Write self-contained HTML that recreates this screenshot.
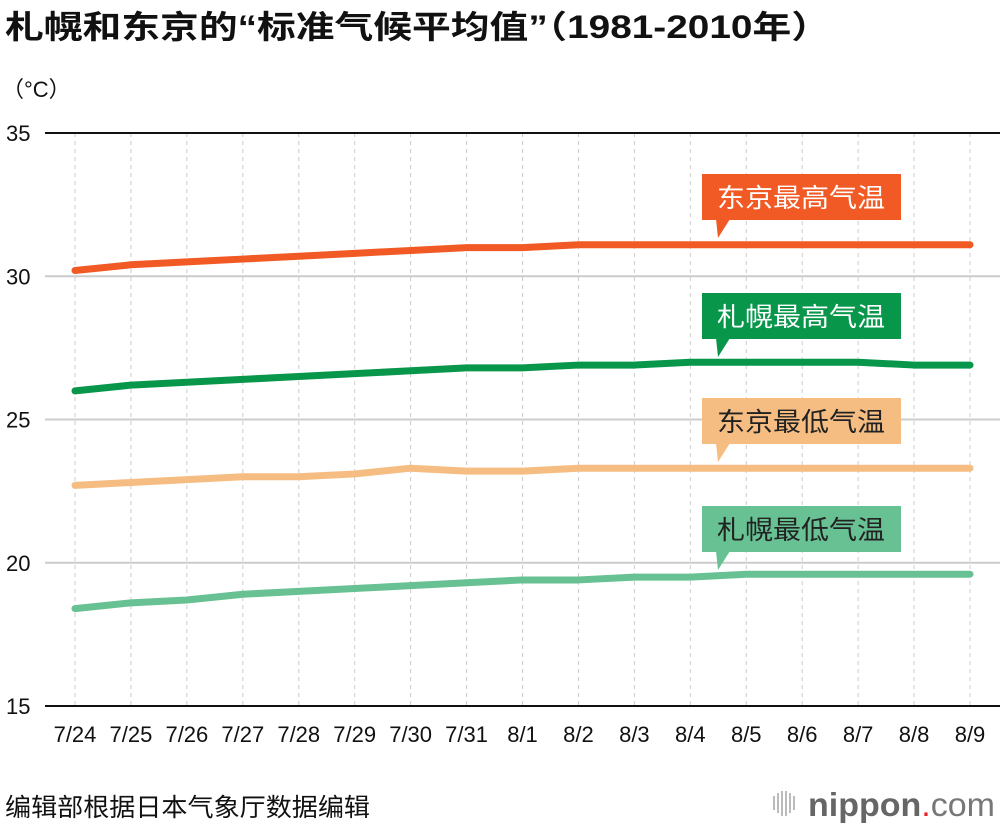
<!DOCTYPE html>
<html><head><meta charset="utf-8"><style>
body{margin:0;background:#fff;width:1000px;height:826px;overflow:hidden;font-family:"Liberation Sans","Noto Sans CJK SC",sans-serif}
</style></head><body>
<svg width="1000" height="826" id="c" font-family="Liberation Sans, Noto Sans CJK SC, sans-serif">
<text x="5" y="38" font-size="32" font-weight="bold" fill="#111" textLength="825" lengthAdjust="spacingAndGlyphs">札幌和东京的“标准气候平均值”（1981-2010年）</text>
<text x="2" y="97" font-size="22" fill="#111">（°C）</text>
<text x="5" y="816" font-size="25" fill="#111" textLength="365" lengthAdjust="spacingAndGlyphs">编辑部根据日本气象厅数据编辑</text>
<g>
<rect x="773" y="796" width="2" height="14" fill="#bbb"/><rect x="777" y="793" width="2" height="20" fill="#bbb"/><rect x="781" y="791" width="2" height="25" fill="#bbb"/><rect x="785" y="791" width="2" height="25" fill="#bbb"/><rect x="789" y="793" width="2" height="20" fill="#bbb"/><rect x="793" y="796" width="2" height="14" fill="#bbb"/>
<text x="808" y="816" font-size="33" fill="#666" textLength="187" lengthAdjust="spacingAndGlyphs"><tspan font-weight="bold">nippon</tspan><tspan fill="#e8202a">.</tspan><tspan fill="#777">com</tspan></text></g>
<g id="grid"></g><g id="lines"></g><g id="labels"></g>
</svg>
<script>
const categories=["7/24","7/25","7/26","7/27","7/28","7/29","7/30","7/31","8/1","8/2","8/3","8/4","8/5","8/6","8/7","8/8","8/9"];
const tokyoHigh=[30.2,30.4,30.5,30.6,30.7,30.8,30.9,31.0,31.0,31.1,31.1,31.1,31.1,31.1,31.1,31.1,31.1];
const sapporoHigh=[26.0,26.2,26.3,26.4,26.5,26.6,26.7,26.8,26.8,26.9,26.9,27.0,27.0,27.0,27.0,26.9,26.9];
const tokyoLow=[22.7,22.8,22.9,23.0,23.0,23.1,23.3,23.2,23.2,23.3,23.3,23.3,23.3,23.3,23.3,23.3,23.3];
const sapporoLow=[18.4,18.6,18.7,18.9,19.0,19.1,19.2,19.3,19.4,19.4,19.5,19.5,19.6,19.6,19.6,19.6,19.6];
const yTicks=[15,20,25,30,35];
const NS="http://www.w3.org/2000/svg";
const X=i=>75+i*(970-75)/(categories.length-1);
const Y=v=>706-(v-15)*(706-133)/20;
function mk(t,a,p){const e=document.createElementNS(NS,t);for(const k in a)e.setAttribute(k,a[k]);p.appendChild(e);return e;}
const g=document.getElementById('grid');
categories.forEach((c,i)=>{
 const l=mk('line',{x1:X(i),x2:X(i),y1:133,y2:706,stroke:'#ccc','stroke-dasharray':'4 4','stroke-width':1},g);
 
 
 const t=mk('text',{x:X(i),y:742,'font-size':22,'text-anchor':'middle',fill:'#111'},g);
 t.textContent=c;
 
 
});
yTicks.forEach(v=>{
 const ax=v==15||v==35;
 const l=mk('line',{x1:45,x2:1000,y1:Y(v),y2:Y(v),stroke:ax?'#111':'#ccc','stroke-width':2},g);
 
 
 const t=mk('text',{x:6,y:Y(v)+8,'font-size':22,fill:'#111'},g);
 t.textContent=v;
 
 
});
const L=document.getElementById('lines');
const series=[[tokyoHigh,'#f15a24','tokyo-high-line'],[sapporoHigh,'#07964a','sapporo-high-line'],[tokyoLow,'#f6bd82','tokyo-low-line'],[sapporoLow,'#68c193','sapporo-low-line']];
series.forEach(([d,col,n])=>{
 const p=mk('polyline',{points:d.map((v,i)=>X(i)+','+Y(v)).join(' '),fill:'none',stroke:col,'stroke-width':7,'stroke-linecap':'round','stroke-linejoin':'round'},L);
 
 
});
const lab=document.getElementById('labels');
const tags=[[174,'#f15a24','#fff','东京最高气温','tokyo-high-label'],[293,'#07964a','#fff','札幌最高气温','sapporo-high-label'],[398,'#f6bd82','#222','东京最低气温','tokyo-low-label'],[506,'#68c193','#222','札幌最低气温','sapporo-low-label']];
tags.forEach(([y,bg,fg,txt,n])=>{
 const gg=mk('g',{},lab);
 
 
 mk('rect',{x:702,y:y,width:199,height:46,fill:bg},gg);
 mk('polygon',{points:`716,${y+45} 730,${y+45} 718,${y+64}`,fill:bg},gg);
 const t=mk('text',{x:801,y:y+33,'font-size':26,'text-anchor':'middle',fill:fg,textLength:168,lengthAdjust:'spacingAndGlyphs'},gg);
 t.textContent=txt;
});
</script>
</body></html>
